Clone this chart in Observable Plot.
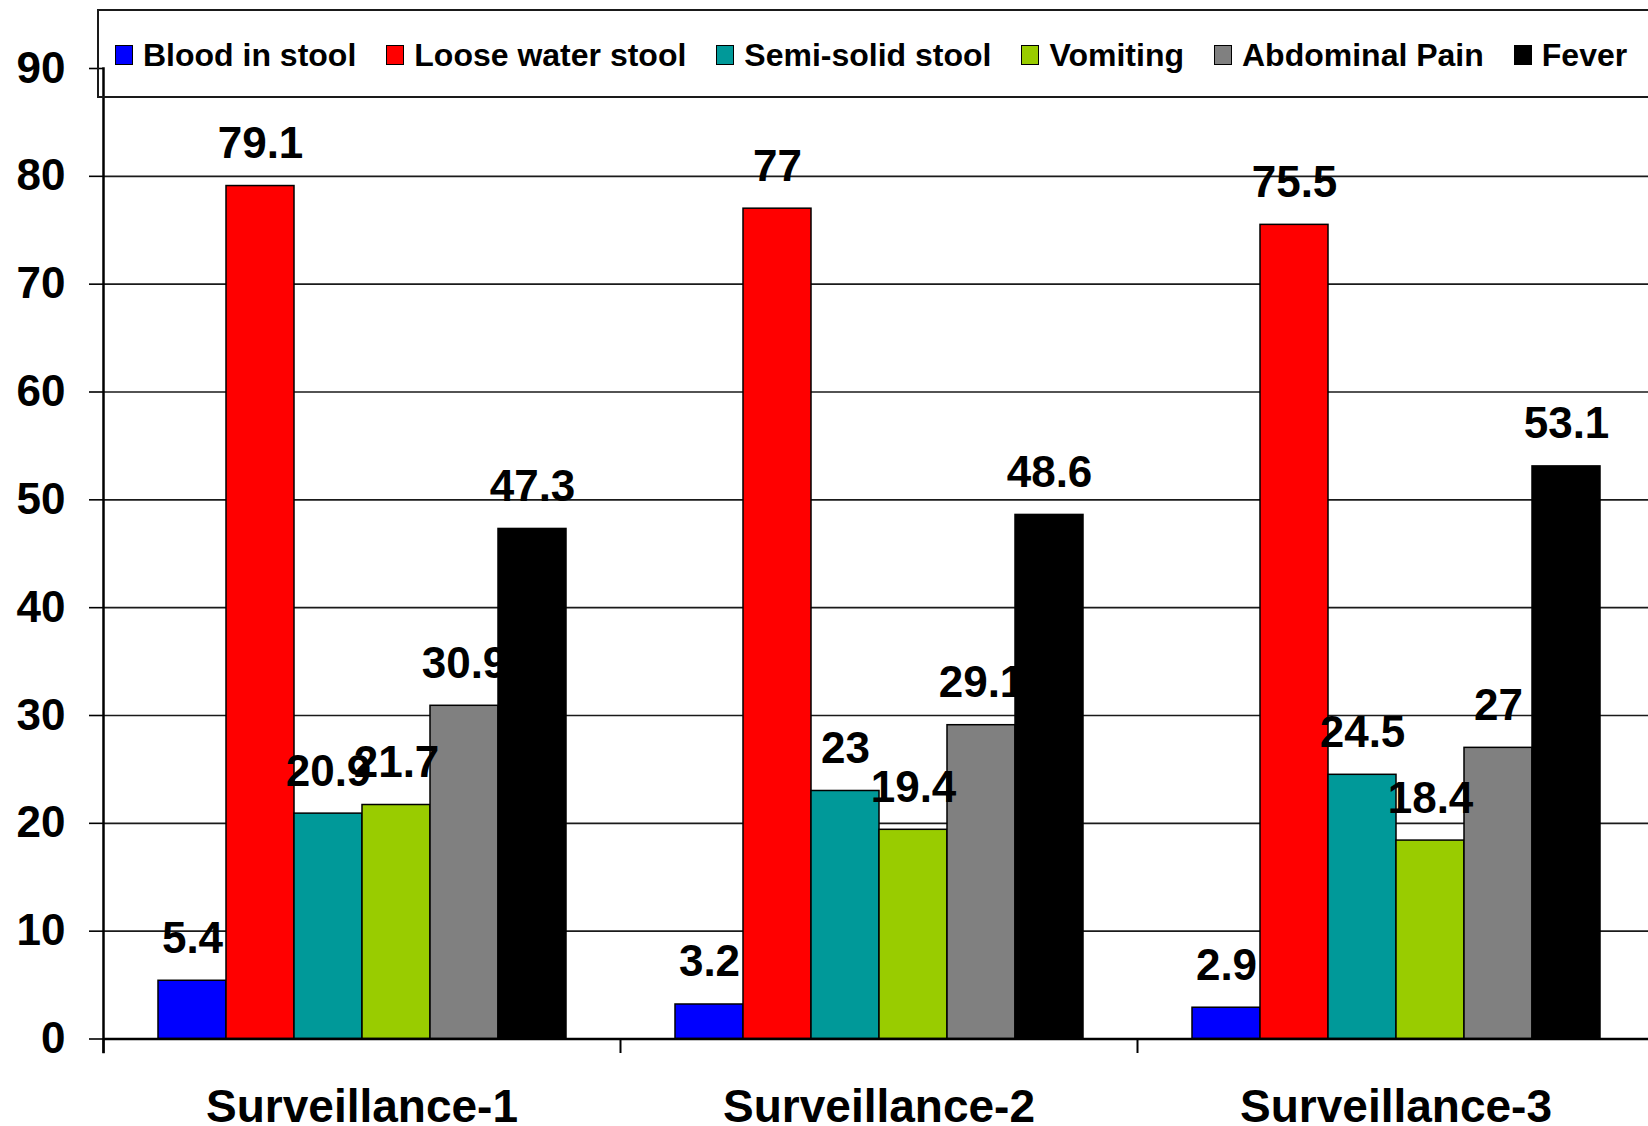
<!DOCTYPE html>
<html>
<head>
<meta charset="utf-8">
<script src="https://cdn.jsdelivr.net/npm/d3@7"></script>
<script src="https://cdn.jsdelivr.net/npm/@observablehq/plot@0.6"></script>
<style>
  body { margin: 0; background: #fff; font-family: "Liberation Sans", Arial, sans-serif; }
  #wrap { position: relative; width: 1648px; height: 1126px; overflow: hidden; }
  #legend {
    position: absolute; left: 97px; top: 9px; width: 1620px; height: 89px;
    border: 2px solid #1a1a1a; box-sizing: border-box;
    display: flex; align-items: center; padding-left: 16px; padding-top: 3px; gap: 30px;
  }
  .item { display: flex; align-items: center; gap: 10px; font-size: 32px; font-weight: bold; color: #000; white-space: nowrap; }
  .sw { width: 18px; height: 20px; border: 1.5px solid #000; box-sizing: border-box; }
</style>
</head>
<body>
<div id="wrap">
  <div id="chart"></div>
  <div id="legend"></div>
</div>
<script>
// Surveys and symptoms
const groups = ["Surveillance-1", "Surveillance-2", "Surveillance-3"];
const symptoms = ["Blood in stool", "Loose water stool", "Semi-solid stool", "Vomiting", "Abdominal Pain", "Fever"];
const colors = ["#0000ff", "#ff0000", "#009999", "#99cc00", "#808080", "#000000"];

// Percentage of cases per symptom, one value per survey
const bloodInStool = [5.4, 3.2, 2.9];
const looseWaterStool = [79.1, 77, 75.5];
const semiSolidStool = [20.9, 23, 24.5];
const vomiting = [21.7, 19.4, 18.4];
const abdominalPain = [30.9, 29.1, 27];
const fever = [47.3, 48.6, 53.1];

const yTicks = [0, 10, 20, 30, 40, 50, 60, 70, 80, 90];
const gridTicks = [10, 20, 30, 40, 50, 60, 70, 80];

const series = [bloodInStool, looseWaterStool, semiSolidStool, vomiting, abdominalPain, fever];
const rows = [];
series.forEach((values, i) => {
  values.forEach((v, j) => rows.push({group: groups[j], symptom: symptoms[i], value: v}));
});

const W = 1648, H = 1126, mTop = 68, mBottom = 87.5, mLeft = 103, mRight = -6;
const plotH = H - mTop - mBottom;
const font = "bold";

const chart = Plot.plot({
  width: W,
  height: H,
  marginTop: mTop,
  marginBottom: mBottom,
  marginLeft: mLeft,
  marginRight: mRight,
  style: {fontFamily: "'Liberation Sans', Arial, sans-serif", color: "#000", background: "transparent", overflow: "visible"},
  fx: {domain: groups, padding: 0},
  x: {domain: symptoms, paddingInner: 0, paddingOuter: 0.75, axis: null},
  y: {domain: [0, 90]},
  color: {domain: symptoms, range: colors},
  marks: [
    Plot.gridY(gridTicks, {stroke: "#1a1a1a", strokeOpacity: 1, strokeWidth: 1.6}),
    Plot.barY(rows, {fx: "group", x: "symptom", y: "value", fill: "symptom", stroke: "#000", strokeWidth: 1.5}),
    Plot.ruleY([0], {stroke: "#000", strokeWidth: 2.5}),
    // y axis line in the first panel, reaching a little below the baseline
    Plot.frame({anchor: "left", facetAnchor: "left", stroke: "#000", strokeWidth: 2.5, insetBottom: -13}),
    // short separator ticks between the surveys
    Plot.frame({anchor: "left", stroke: "#000", strokeWidth: 2, insetTop: plotH, insetBottom: -13}),
    Plot.text(rows, {
      fx: "group", x: "symptom", y: "value", text: (d) => String(d.value),
      dy: -28, lineAnchor: "bottom", fontSize: 44, fontWeight: font, fill: "#000"
    }),
    Plot.axisY({
      ticks: yTicks, tickSize: 14, tickPadding: 24, fontSize: 44, fontWeight: font,
      stroke: "#000", strokeWidth: 1.6, label: null
    }),
    Plot.axisFx({
      anchor: "bottom", tickSize: 0, tickPadding: 50, fontSize: 46, fontWeight: font, label: null
    })
  ]
});
document.getElementById("chart").append(chart);

// Legend row
const legend = d3.select("#legend");
symptoms.forEach((s, i) => {
  const item = legend.append("div").attr("class", "item");
  item.append("div").attr("class", "sw").style("background", colors[i]);
  item.append("span").text(s);
});
</script>
</body>
</html>
